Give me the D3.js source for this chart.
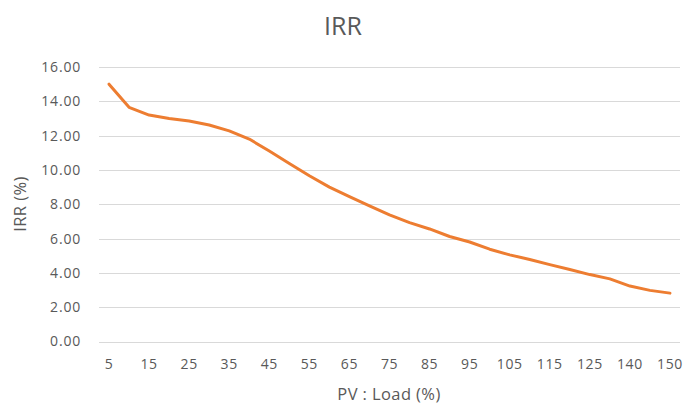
<!DOCTYPE html>
<html>
<head>
<meta charset="utf-8">
<script src="https://cdn.jsdelivr.net/npm/d3@7"></script>
<style>
  html, body { margin: 0; padding: 0; background: #fff; }
  svg { display: block; }
  text { font-family: "Open Sans", "Noto Sans", sans-serif; fill: #595959; }
</style>
</head>
<body>
<svg id="chart" width="686" height="405"></svg>
<script>
// PV : Load ratio (%) categories
const categories = [5, 10, 15, 20, 25, 30, 35, 40, 45, 50, 55, 60, 65, 70, 75, 80,
  85, 90, 95, 100, 105, 110, 115, 120, 125, 130, 140, 145, 150];
// IRR (%) for each ratio
const irrValues = [15.0, 13.65, 13.2, 13.0, 12.85, 12.62, 12.28, 11.8, 11.1, 10.38,
  9.66, 9.0, 8.44, 7.9, 7.38, 6.93, 6.56, 6.12, 5.8, 5.38, 5.05, 4.78, 4.48,
  4.2, 3.9, 3.65, 3.23, 2.98, 2.82];
// Labelled categories on the x axis
const xTickLabels = [5, 15, 25, 35, 45, 55, 65, 75, 85, 95, 105, 115, 125, 140, 150];
const yTicks = [0, 2, 4, 6, 8, 10, 12, 14, 16];

const svg = d3.select("#chart");
const plot = { left: 99, right: 680, top: 67, bottom: 341.5 };

const x = d3.scaleBand()
  .domain(categories)
  .range([plot.left, plot.right]);

const y = d3.scaleLinear()
  .domain([0, 16])
  .range([plot.bottom, plot.top]);

// horizontal gridlines
svg.append("g")
  .selectAll("line")
  .data(yTicks)
  .join("line")
  .attr("x1", plot.left)
  .attr("x2", plot.right)
  .attr("y1", d => Math.round(y(d)) + 0.5)
  .attr("y2", d => Math.round(y(d)) + 0.5)
  .attr("stroke", "#d9d9d9")
  .attr("stroke-width", 1);

// y axis labels
const yAxis = svg.append("g")
  .attr("transform", `translate(${plot.left - 8},0)`)
  .call(d3.axisLeft(y).tickValues(yTicks).tickFormat(d3.format(".2f")).tickSize(0).tickPadding(10));
yAxis.select(".domain").remove();
yAxis.selectAll("text")
  .attr("text-anchor", "end")
  .attr("font-size", "14px")
  .attr("letter-spacing", "0.8px")
  .attr("font-family", "Open Sans")
  .attr("fill", "#595959");

// x axis labels
const xAxis = svg.append("g")
  .attr("transform", `translate(0,${plot.bottom + 12})`)
  .call(d3.axisBottom(x).tickValues(xTickLabels).tickSize(0).tickPadding(6));
xAxis.select(".domain").remove();
xAxis.selectAll("text")
  .attr("text-anchor", "middle")
  .attr("font-size", "14px")
  .attr("letter-spacing", "0.6px")
  .attr("font-family", "Open Sans")
  .attr("fill", "#595959");

// IRR line
const line = d3.line()
  .x((d, i) => x(categories[i]) + x.bandwidth() / 2)
  .y(d => y(d));

svg.append("path")
  .datum(irrValues)
  .attr("d", line)
  .attr("fill", "none")
  .attr("stroke", "#ed7d31")
  .attr("stroke-width", 3)
  .attr("stroke-linejoin", "round")
  .attr("stroke-linecap", "round");

// titles
svg.append("text")
  .attr("x", 343)
  .attr("y", 35)
  .attr("text-anchor", "middle")
  .attr("font-size", "25px")
  .text("IRR");

svg.append("text")
  .attr("x", 389)
  .attr("y", 400)
  .attr("text-anchor", "middle")
  .attr("font-size", "16.5px")
  .attr("letter-spacing", "0.4px")
  .text("PV : Load (%)");

svg.append("text")
  .attr("transform", "translate(26,204) rotate(-90)")
  .attr("text-anchor", "middle")
  .attr("font-size", "16.5px")
  .attr("letter-spacing", "0.4px")
  .text("IRR (%)");
</script>
</body>
</html>
